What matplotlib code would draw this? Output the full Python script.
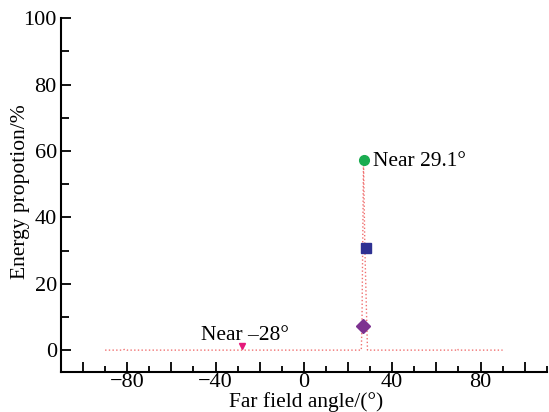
import matplotlib
matplotlib.use('Agg')
import matplotlib.pyplot as plt
from matplotlib.ticker import MultipleLocator, FuncFormatter

plt.rcParams['font.family'] = ['Liberation Serif', 'DejaVu Serif']

# energy distribution curve (far field angle vs energy share)
angle = [-90, -82, -81, -80, -28.1, 26.0, 26.3, 27.0, 27.6, 28.8, 29.2, 69, 69.5, 70, 90]
energy = [0, 0, 0.3, 0, 0, 0, 7.3, 57.4, 31.0, 0, 0, 0, 0.4, 0, 0]

# highlighted points
pt_angles = [27.2, 28.1, 26.6, -28.1]
pt_values = [57.4, 30.9, 7.3, 1.3]
pt_markers = ['o', 's', 'D', 'v']
pt_colors = ['#1aac50', '#2e3192', '#7d3290', '#e5197a']
pt_sizes = [7, 6.5, 7.5, 4]

fig = plt.figure(figsize=(5.49, 4.12), dpi=100)
ax = fig.add_axes([0.111, 0.097, 0.885, 0.859])

ax.plot(angle, energy, linestyle=':', color='#f07070', linewidth=1.0)
for a, v, m, c, s in zip(pt_angles, pt_values, pt_markers, pt_colors, pt_sizes):
    ax.plot(a, v, marker=m, color=c, markersize=s, linestyle='none')

ax.text(31.4, 56.7, 'Near 29.1°', fontsize=15.5, va='center', ha='left')
ax.text(-26.5, 4.4, 'Near \u201328°', fontsize=15.5, va='center', ha='center')

ax.set_xlim(-110, 110)
ax.set_ylim(-6.6, 100)
ax.xaxis.set_major_locator(MultipleLocator(20))
ax.xaxis.set_minor_locator(MultipleLocator(10))
ax.xaxis.set_major_formatter(FuncFormatter(
    lambda v, p: ('\u2212%d' % abs(v) if v < 0 else '%d' % v) if round(v) % 40 == 0 else ''))
ax.yaxis.set_major_locator(MultipleLocator(20))
ax.yaxis.set_minor_locator(MultipleLocator(10))

ax.spines['top'].set_visible(False)
ax.spines['right'].set_visible(False)
ax.spines['left'].set_linewidth(1.5)
ax.spines['bottom'].set_linewidth(1.5)
ax.tick_params(which='both', direction='in', width=1.3, labelsize=16)
ax.tick_params(which='major', length=7)
ax.tick_params(which='minor', length=4)
ax.tick_params(axis='y', which='minor', length=6)
ax.tick_params(axis='x', pad=1)
ax.tick_params(axis='y', pad=3)

ax.set_xlabel('Far field angle/(°)', fontsize=15.5)
ax.set_ylabel('Energy propotion/%', fontsize=15.5)
ax.xaxis.set_label_coords(0.505, -0.056)
ax.yaxis.set_label_coords(-0.064, 0.51)

fig.savefig('out.png', dpi=100)
